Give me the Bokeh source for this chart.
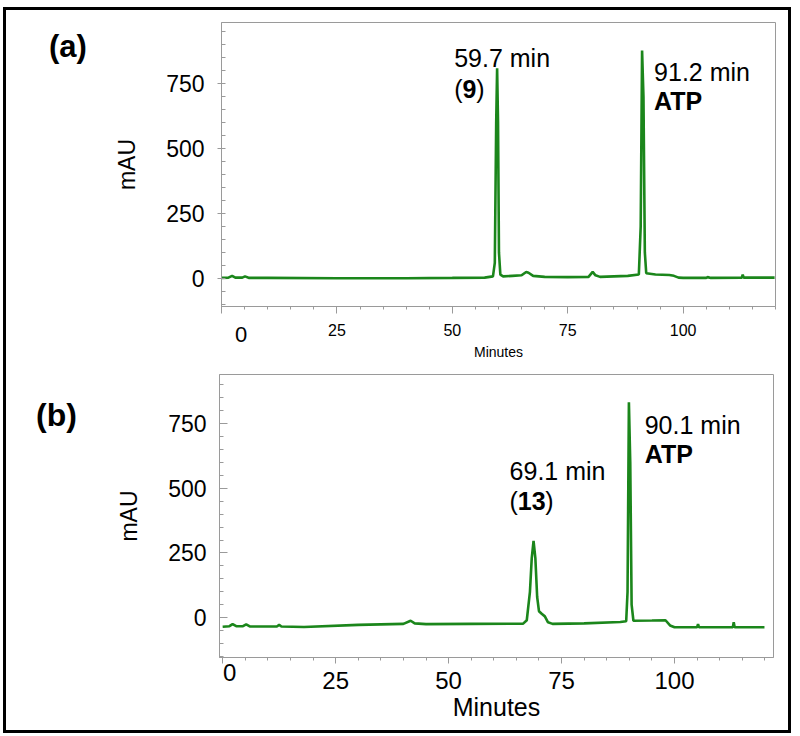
from bokeh.plotting import figure
from bokeh.models import Range1d, FixedTicker, Label, Div
from bokeh.layouts import column, row
from bokeh.embed import file_html
from bokeh.resources import INLINE

# ---------------- data ----------------
# Panel (a): chromatogram of compound 9 + ATP
time_a = [0, 1.5, 2.3, 3, 4.5, 5.1, 6, 10, 25, 40, 50, 57, 58.8, 59.2, 59.5, 59.7, 59.9,
          60.1, 60.4, 61, 63, 65, 66, 66.5, 67.5, 70, 75, 79.5, 80.4, 81, 82, 88, 90.4,
          90.8, 91.1, 91.4, 91.7, 92, 94, 97, 98, 99, 100, 105, 105.3, 106, 112.7, 112.9,
          113.1, 119.8]
mau_a = [2, 3, 10, 3, 3, 8, 2, 2, 1, 1, 2, 3, 8, 60, 600, 809, 600,
         100, 15, 8, 10, 12, 25, 22, 10, 6, 5, 6, 25, 12, 6, 10, 15,
         200, 877, 700, 100, 20, 15, 13, 10, 3, 2, 2, 5, 2, 3, 15,
         3, 3]

# Panel (b): chromatogram of compound 13 + ATP
time_b = [0, 1.5, 2.2, 3, 4.5, 5.2, 6, 12, 12.5, 13, 18, 30, 35, 40, 41.6, 42.5, 45, 55,
          66.5, 67.3, 68.0, 68.4, 68.8, 69.2, 69.6, 70.0, 70.6, 71.3, 72, 73, 80, 88, 89.3,
          89.6, 89.9, 90.2, 90.5, 90.9, 95, 98, 99, 100, 105, 105.2, 105.4, 112.9, 113.1,
          113.3, 119.9]
mau_b = [-35, -33, -25, -33, -33, -26, -34, -34, -28, -34, -36, -28, -26, -24, -12, -22, -25, -24,
         -23, -10, 100, 230, 297, 230, 80, 25, 15, 5, -18, -24, -22, -17, -14,
         100, 833, 600, 50, -12, -11, -10, -30, -37, -37, -25, -37, -37, -18,
         -37, -37]

x_ticks = [0, 25, 50, 75, 100]
x_minor = list(range(0, 125, 5))
y_ticks = [0, 250, 500, 750]
y_minor = list(range(-150, 1000, 50))

GREEN = "#1b861b"
GRAY = "#9a9a9a"
FONT = "Liberation Sans"
DIV_W = 100


def lab(p, text, x, y, size, bold=False):
    p.add_layout(Label(x=x, y=y, text=text, text_font=FONT,
                       text_font_size=f"{size}px",
                       text_font_style="bold" if bold else "normal",
                       text_align="left", text_baseline="alphabetic", text_color="black"))


def panel_div(text, size, left, top, height, zero_size, zero_left, zero_top):
    html = (f'<div style="margin-left:{left}px; margin-top:{top}px; font-family:\'{FONT}\';'
            f' font-weight:bold; font-size:{size}px; line-height:1; color:black;">{text}</div>'
            f'<div style="position:absolute; left:{zero_left}px; top:{zero_top}px; z-index:10;'
            f' font-family:\'{FONT}\'; font-size:{zero_size}px; line-height:1; color:black;'
            f' white-space:nowrap;">0</div>')
    return Div(text=html, width=DIV_W, height=height,
               styles={"margin": "0", "padding": "0", "overflow": "visible",
                       "position": "relative", "z-index": "10"})


def style(p, xlab_size, xtitle_size, x_tick_out, x_lab_standoff, x_title_standoff,
          y_tick_in, y_tick_out):
    p.grid.visible = False
    p.outline_line_color = GRAY
    p.outline_line_width = 1
    p.background_fill_color = "white"
    p.border_fill_color = None

    xa = p.xaxis[0]
    xa.ticker = FixedTicker(ticks=x_ticks, minor_ticks=x_minor)
    xa.major_label_overrides = {0: ""}
    xa.major_label_text_font = FONT
    xa.major_label_text_font_size = f"{xlab_size}px"
    xa.major_label_text_color = "black"
    xa.major_tick_out = x_tick_out
    xa.major_tick_in = 0
    xa.minor_tick_out = 3
    xa.minor_tick_in = 0
    xa.axis_line_color = GRAY
    xa.major_tick_line_color = GRAY
    xa.minor_tick_line_color = GRAY
    xa.major_label_standoff = x_lab_standoff
    xa.axis_label = "Minutes"
    xa.axis_label_text_font = FONT
    xa.axis_label_text_font_size = f"{xtitle_size}px"
    xa.axis_label_text_font_style = "normal"
    xa.axis_label_text_color = "black"
    xa.axis_label_standoff = x_title_standoff

    ya = p.yaxis[0]
    ya.ticker = FixedTicker(ticks=y_ticks, minor_ticks=y_minor)
    ya.major_label_text_font = FONT
    ya.major_label_text_font_size = "23px"
    ya.major_label_text_color = "black"
    ya.major_tick_out = y_tick_out
    ya.major_tick_in = y_tick_in
    ya.minor_tick_in = 4
    ya.minor_tick_out = 0
    ya.axis_line_color = GRAY
    ya.major_tick_line_color = GRAY
    ya.minor_tick_line_color = GRAY
    ya.major_label_standoff = 13
    ya.axis_label = "mAU"
    ya.axis_label_text_font = FONT
    ya.axis_label_text_font_size = "23px"
    ya.axis_label_text_font_style = "normal"
    ya.axis_label_text_color = "black"
    ya.axis_label_standoff = 23


# ---------------- panel (a) ----------------
p1 = figure(width=782 - DIV_W, height=359, x_range=Range1d(0, 120), y_range=Range1d(-108, 985),
            output_backend="svg", toolbar_location=None,
            min_border_left=215 - DIV_W, min_border_right=13, min_border_top=12,
            min_border_bottom=63)
style(p1, 16, 14, 7, 10, 5, 0, 4)
p1.line(time_a, mau_a, color=GREEN, line_width=2.6)

lab(p1, "59.7 min", 50.4, 847, 25)
lab(p1, "(", 50.4, 730, 25)
lab(p1, "9", 52.2, 730, 25, bold=True)
lab(p1, ")", 55.2, 730, 25)
lab(p1, "91.2 min", 93.7, 796, 25)
lab(p1, "ATP", 93.7, 681, 25, bold=True)

# ---------------- panel (b) ----------------
p2 = figure(width=782 - DIV_W, height=361, x_range=Range1d(-0.7, 121.9),
            y_range=Range1d(-154, 940),
            output_backend="svg", toolbar_location=None,
            min_border_left=213 - DIV_W, min_border_right=15, min_border_top=5,
            min_border_bottom=73)
style(p2, 24, 25, 6, 8, 1, 8, 0)
p2.line(time_b, mau_b, color=GREEN, line_width=2.6)

lab(p2, "69.1 min", 63.5, 568, 25)
lab(p2, "(", 63.5, 452, 25)
lab(p2, "13", 65.3, 452, 25, bold=True)
lab(p2, ")", 71.4, 452, 25)
lab(p2, "90.1 min", 93.4, 746, 25)
lab(p2, "ATP", 93.4, 632, 25, bold=True)

row_a = row(panel_div("(a)", 31, 43, 21, 359, 22, 229, 314), p1, spacing=0)
row_b = row(panel_div("(b)", 32, 30, 30, 361, 24, 217, 292), p2, spacing=0)

layout = column(row_a, row_b, spacing=0,
                styles={"border": "3px solid black", "margin-left": "3px",
                        "margin-top": "7px", "background-color": "white"})

open("out.html", "w").write(file_html(layout, INLINE))
